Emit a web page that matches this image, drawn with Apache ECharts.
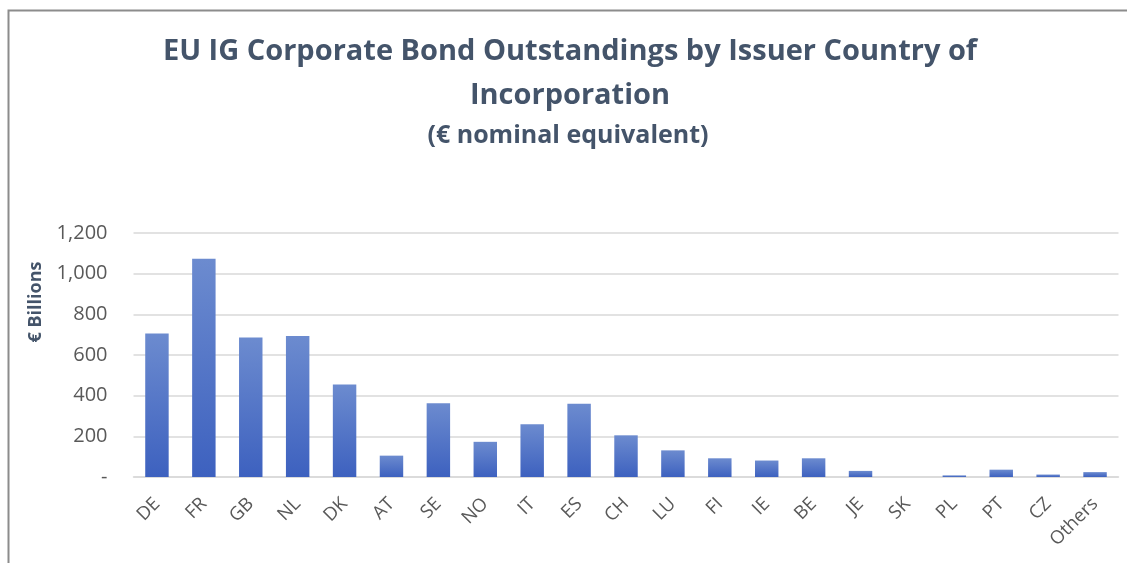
<!DOCTYPE html>
<html>
<head>
<meta charset="utf-8">
<script src="https://cdn.jsdelivr.net/npm/echarts@6/dist/echarts.min.js"></script>
<style>
  html, body { margin: 0; padding: 0; background: #ffffff; }
  #chart { width: 1127px; height: 563px; }
</style>
</head>
<body>
<div id="chart"></div>
<script>
// Issuer countries of incorporation, in display order
const countries = ['DE', 'FR', 'GB', 'NL', 'DK', 'AT', 'SE', 'NO', 'IT', 'ES', 'CH',
                   'LU', 'FI', 'IE', 'BE', 'JE', 'SK', 'PL', 'PT', 'CZ', 'Others'];
// Outstanding amounts, € billions (nominal equivalent)
const outstandings = [706, 1073, 686, 693, 455, 105, 363, 173, 260, 360, 205,
                      131, 92, 81, 92, 30, 0, 8, 36, 12, 24];
// Value axis ticks
const yTicks = [0, 200, 400, 600, 800, 1000, 1200];

const FONT = '"Open Sans", "Liberation Sans", sans-serif';
const TITLE_COLOR = '#44546a';
const LABEL_COLOR = '#595959';

const chart = echarts.init(document.getElementById('chart'), null, { renderer: 'canvas' });

function fmtTick(v) {
  if (v === 0) return '-';
  return v.toLocaleString('en-US');
}

chart.setOption({
  animation: false,
  backgroundColor: '#ffffff',
  title: [
    {
      text: 'EU IG Corporate Bond Outstandings by Issuer Country of\nIncorporation',
      left: 565, top: 25, textAlign: 'center',
      textStyle: { fontFamily: FONT, fontWeight: 'bold', fontSize: 29, lineHeight: 44, color: TITLE_COLOR }
    },
    {
      text: '(€ nominal equivalent)',
      left: 563, top: 118, textAlign: 'center',
      textStyle: { fontFamily: FONT, fontWeight: 'bold', fontSize: 25, color: TITLE_COLOR }
    }
  ],
  graphic: [
    {
      type: 'rect', left: 6, top: 8, silent: true,
      shape: { width: 1130, height: 570 },
      style: { fill: 'none', stroke: '#8c8c8c', lineWidth: 2 }
    },
    {
      type: 'text', x: 36, y: 302, rotation: Math.PI / 2, silent: true,
      style: {
        text: '€ Billions', fontFamily: FONT, fontWeight: 'bold', fontSize: 18,
        fill: TITLE_COLOR, align: 'center', verticalAlign: 'middle'
      }
    }
  ],
  grid: { left: 133.5, right: 8.5, top: 233, bottom: 86, containLabel: false },
  xAxis: {
    type: 'category',
    data: countries,
    axisLine: { lineStyle: { color: '#d9d9d9', width: 1.5 } },
    axisTick: { show: false },
    axisLabel: { interval: 0, rotate: 45, margin: 24, fontFamily: FONT, fontSize: 18.5, color: LABEL_COLOR }
  },
  yAxis: {
    type: 'value',
    min: yTicks[0], max: yTicks[yTicks.length - 1], interval: 200,
    axisLine: { show: false },
    axisTick: { show: false },
    splitLine: { lineStyle: { color: '#d9d9d9', width: 1.5 } },
    axisLabel: { formatter: fmtTick, margin: 26, fontFamily: FONT, fontSize: 20, color: LABEL_COLOR }
  },
  series: [{
    type: 'bar',
    data: outstandings,
    barWidth: '50%',
    itemStyle: {
      color: new echarts.graphic.LinearGradient(0, 0, 0, 1, [
        { offset: 0, color: '#6c8bcf' },
        { offset: 1, color: '#3d61bf' }
      ])
    }
  }]
});
</script>
</body>
</html>
